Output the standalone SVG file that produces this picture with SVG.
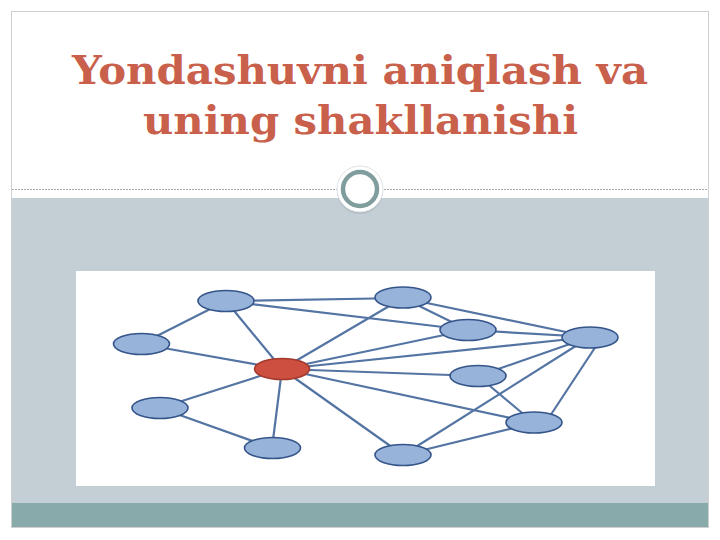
<svg xmlns="http://www.w3.org/2000/svg" width="720" height="540" viewBox="0 0 720 540">
<style>
.title{font-family:"DejaVu Serif","Liberation Serif",serif;font-weight:bold;font-size:40px;fill:#c9604b;text-anchor:middle}
.edge{stroke:#5474a3;stroke-width:2.2;fill:none;stroke-linecap:round}
.node{fill:#97b3da;stroke:#35558a;stroke-width:1.6}
.hub{fill:#cc4f3f;stroke:#a33a2d;stroke-width:1.6}
</style>
<rect x="0" y="0" width="720" height="540" fill="#ffffff"/>
<rect x="11.5" y="11.5" width="697" height="516" fill="#ffffff" stroke="#cfcfcf" stroke-width="1"/>
<rect x="12" y="198" width="696" height="306" fill="#c3cfd5"/>
<rect x="12" y="503" width="696" height="24" fill="#89aaab"/>
<line x1="12" y1="189.5" x2="708" y2="189.5" stroke="#a9a9a9" stroke-width="1" stroke-dasharray="2,1"/>
<circle cx="360" cy="191" r="23" fill="#9aa8ae" opacity="0.5"/>
<circle cx="360" cy="189" r="23" fill="#ffffff" stroke="#dde3e6" stroke-width="1"/>
<circle cx="360" cy="189" r="17" fill="#ffffff" stroke="#7f9d9c" stroke-width="4.5"/>
<text class="title" x="360" y="84" textLength="576" lengthAdjust="spacingAndGlyphs">Yondashuvni aniqlash va</text>
<text class="title" x="360.5" y="134" textLength="435" lengthAdjust="spacingAndGlyphs">uning shakllanishi</text>
<rect x="76" y="271" width="579" height="215" fill="#ffffff"/>
<g id="connectors">
<line class="edge" x1="226" y1="301" x2="141" y2="344"/>
<line class="edge" x1="226" y1="301" x2="403" y2="298"/>
<line class="edge" x1="226" y1="301" x2="468" y2="330"/>
<line class="edge" x1="226" y1="301" x2="282" y2="369"/>
<line class="edge" x1="141" y1="344" x2="282" y2="369"/>
<line class="edge" x1="160" y1="408" x2="282" y2="369"/>
<line class="edge" x1="160" y1="408" x2="272" y2="448"/>
<line class="edge" x1="272" y1="448" x2="282" y2="369" stroke-width="3"/>
<line class="edge" x1="282" y1="369" x2="403" y2="298"/>
<line class="edge" x1="282" y1="369" x2="468" y2="330"/>
<line class="edge" x1="282" y1="369" x2="590" y2="337"/>
<line class="edge" x1="282" y1="369" x2="478" y2="376"/>
<line class="edge" x1="282" y1="369" x2="534" y2="423"/>
<line class="edge" x1="282" y1="369" x2="403" y2="455"/>
<line class="edge" x1="403" y1="298" x2="468" y2="330"/>
<line class="edge" x1="403" y1="298" x2="590" y2="337"/>
<line class="edge" x1="468" y1="330" x2="590" y2="337"/>
<line class="edge" x1="590" y1="337" x2="478" y2="376"/>
<line class="edge" x1="600" y1="340" x2="550" y2="416"/>
<line class="edge" x1="590" y1="337" x2="403" y2="455"/>
<line class="edge" x1="478" y1="376" x2="534" y2="423"/>
<line class="edge" x1="534" y1="423" x2="403" y2="455"/>
</g>
<g id="node-a"><ellipse class="node" cx="226" cy="301" rx="28" ry="10.5"/></g>
<g id="node-b"><ellipse class="node" cx="141.5" cy="344" rx="28" ry="10.5"/></g>
<g id="node-c"><ellipse class="node" cx="160" cy="408" rx="28" ry="10.5"/></g>
<g id="node-d"><ellipse class="node" cx="272.5" cy="448" rx="28" ry="10.5"/></g>
<g id="node-e"><ellipse class="node" cx="403" cy="297.5" rx="28" ry="10.5"/></g>
<g id="node-f"><ellipse class="node" cx="468" cy="330" rx="28" ry="10.5"/></g>
<g id="node-g"><ellipse class="node" cx="590" cy="337.5" rx="28" ry="10.5"/></g>
<g id="node-h"><ellipse class="node" cx="478" cy="376" rx="28" ry="10.5"/></g>
<g id="node-i"><ellipse class="node" cx="534" cy="422.5" rx="28" ry="10.5"/></g>
<g id="node-j"><ellipse class="node" cx="403" cy="455" rx="28" ry="10.5"/></g>
<g id="node-hub"><ellipse class="hub" cx="282" cy="369" rx="27.5" ry="10.5"/></g>
</svg>
